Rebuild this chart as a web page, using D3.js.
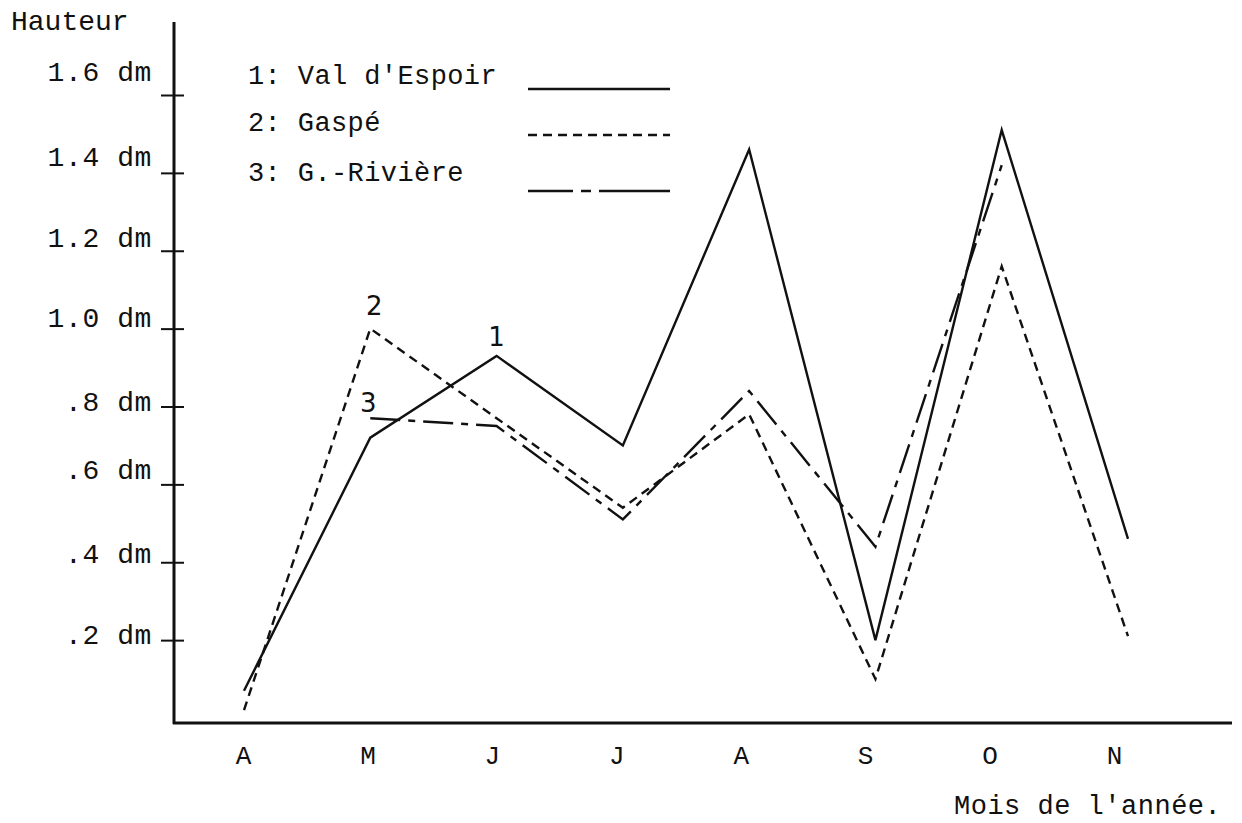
<!DOCTYPE html>
<html>
<head>
<meta charset="utf-8">
<script src="https://cdn.jsdelivr.net/npm/d3@7"></script>
<style>
  html, body { margin: 0; padding: 0; background: #fff; }
  svg { display: block; }
  text { font-family: "Liberation Mono", "DejaVu Sans Mono", monospace; fill: #111; }
</style>
</head>
<body>
<svg id="chart" width="1242" height="823"></svg>
<script>
// ---- data ----
const months = ["A", "M", "J", "J", "A", "S", "O", "N"];
const valDEspoir = [0.07, 0.72, 0.93, 0.70, 1.46, 0.20, 1.51, 0.46];
const gaspe      = [0.02, 1.00, 0.77, 0.54, 0.78, 0.10, 1.16, 0.21];
const gRiviere   = [null, 0.77, 0.75, 0.51, 0.84, 0.44, 1.42, null];
const yTicks = [0.2, 0.4, 0.6, 0.8, 1.0, 1.2, 1.4, 1.6];
const yTickLabels = [".2 dm", ".4 dm", ".6 dm", ".8 dm", "1.0 dm", "1.2 dm", "1.4 dm", "1.6 dm"];
const seriesNames = ["1: Val d'Espoir", "2: Gaspé", "3: G.-Rivière"];
const curveLabels = ["1", "2", "3"];

const svg = d3.select("#chart");
const ink = "#111";

const idx = months.map((d, i) => i);
const xData = d3.scalePoint().domain(idx).range([244, 1128]);
const xLab = d3.scalePoint().domain(idx).range([243, 1114]);
const y = d3.scaleLinear().domain([0, 1.6]).range([718, 95]);

// axes
svg.append("line").attr("x1", 174).attr("x2", 174).attr("y1", 22).attr("y2", 724)
  .attr("stroke", ink).attr("stroke-width", 3);
svg.append("line").attr("x1", 173).attr("x2", 1232).attr("y1", 723).attr("y2", 723)
  .attr("stroke", ink).attr("stroke-width", 3);

// y ticks (crossing the axis); typed labels drift a little relative to their ticks
const labelShift = { "0.2": 10, "0.4": 7, "0.6": 1, "0.8": 11, "1": 5, "1.2": 3, "1.4": 0, "1.6": -8 };
const yAxis = d3.axisLeft(y).tickValues(yTicks).tickSize(12).tickSizeOuter(0)
  .tickFormat((d, i) => yTickLabels[i]);
const gy = svg.append("g").attr("transform", "translate(174,0)").call(yAxis);
gy.select(".domain").remove();
gy.selectAll(".tick line").attr("x1", -13).attr("x2", 10).attr("stroke", ink).attr("stroke-width", 2);
gy.selectAll(".tick text").attr("x", -22).attr("dy", d => (labelShift[String(d)] - 7) + "px")
  .style("font-size", "28px").style("letter-spacing", "0.6px")
  .style("font-family", '"Liberation Mono", monospace').attr("fill", ink);

// x labels
const xAxis = d3.axisBottom(xLab).tickSize(0).tickFormat(i => months[i]);
const gx = svg.append("g").attr("transform", "translate(0,743)").call(xAxis);
gx.select(".domain").remove();
gx.selectAll(".tick text").attr("dy", "0.71em").style("font-size", "26px")
  .style("font-family", '"Liberation Mono", monospace').attr("fill", ink);

// axis titles
svg.append("text").attr("x", 11).attr("y", 30).style("font-size", "28px").text("Hauteur");
svg.append("text").attr("x", 954).attr("y", 814).style("font-size", "27px")
  .style("letter-spacing", "0.5px").text("Mois de l'année.");

// series
const dashes = [null, "9,6", "30,8,7,8"];
const series = [valDEspoir, gaspe, gRiviere];
const line = d3.line()
  .defined(d => d.v !== null)
  .x(d => xData(d.i)).y(d => y(d.v));

series.forEach((vals, s) => {
  const pts = vals.map((v, i) => ({ i, v }));
  svg.append("path").datum(pts)
    .attr("d", line).attr("fill", "none")
    .attr("stroke", ink).attr("stroke-width", 2.4)
    .attr("stroke-linejoin", "miter")
    .attr("stroke-dasharray", dashes[s]);
});

// curve number labels
const labelPos = [
  { s: 0, i: 2, dx: 0, dy: -10 },
  { s: 1, i: 1, dx: 4, dy: -14 },
  { s: 2, i: 1, dx: -2, dy: -6 }
];
labelPos.forEach(p => {
  svg.append("text").attr("x", xData(p.i) + p.dx).attr("y", y(series[p.s][p.i]) + p.dy)
    .attr("text-anchor", "middle").style("font-size", "26px")
    .style("font-family", '"DejaVu Sans", sans-serif').text(curveLabels[p.s]);
});

// legend
const legY = [89, 135, 191];
const legTextY = [84, 131, 181];
seriesNames.forEach((n, s) => {
  svg.append("text").attr("x", 248).attr("y", legTextY[s]).style("font-size", "27px")
    .style("letter-spacing", "0.4px").text(n);
  svg.append("line").attr("x1", 528).attr("x2", 670).attr("y1", legY[s]).attr("y2", legY[s])
    .attr("stroke", ink).attr("stroke-width", 2.4)
    .attr("stroke-dasharray", s === 2 ? "45,8,10,8,80" : dashes[s]);
});
</script>
</body>
</html>
